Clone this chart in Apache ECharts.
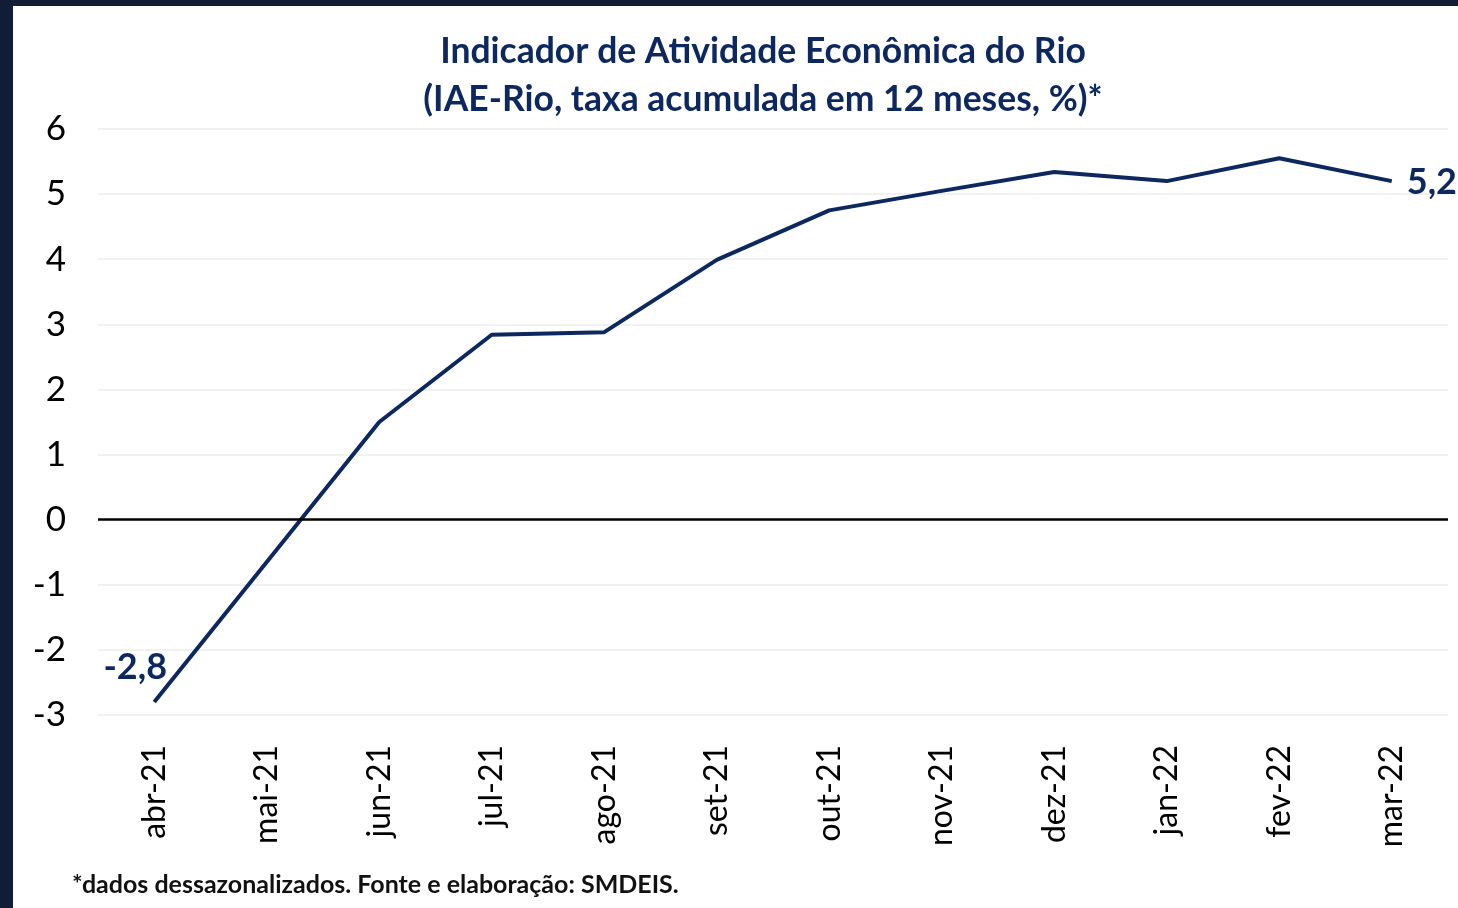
<!DOCTYPE html>
<html>
<head>
<meta charset="utf-8">
<script src="https://cdn.jsdelivr.net/npm/echarts@6/dist/echarts.min.js"></script>
<style>
  html, body { margin: 0; padding: 0; background: #fff; }
  #chart { width: 1458px; height: 908px; }
</style>
</head>
<body>
<div id="chart"></div>
<script>
// meses (abr-21 .. mar-22)
const categories = ['abr-21', 'mai-21', 'jun-21', 'jul-21', 'ago-21', 'set-21',
  'out-21', 'nov-21', 'dez-21', 'jan-22', 'fev-22', 'mar-22']
// IAE-Rio, taxa acumulada em 12 meses (%)
const iaeRio = [-2.8, -0.65, 1.5, 2.84, 2.88, 3.99, 4.75, 5.05, 5.34, 5.2, 5.55, 5.2]
const yTicks = [-3, -2, -1, 0, 1, 2, 3, 4, 5, 6]

const navy = '#0d275f'
const fontFam = 'Lato, "Open Sans", sans-serif'

let myChart = echarts.init(document.getElementById('chart'))

// só o primeiro e o último ponto levam rótulo
let seriesData = iaeRio.map(function (v, i) {
  let item = { value: v }
  if (i === 0) {
    item.label = { show: true, position: 'top', offset: [-19, -12] }
  } else if (i === iaeRio.length - 1) {
    item.label = { show: true, position: 'right', offset: [10, 1] }
  }
  return item
})

let option = {
  backgroundColor: '#fff',
  animation: false,
  title: {
    text: 'Indicador de Atividade Econômica do Rio\n(IAE-Rio, taxa acumulada em 12 meses, %)*',
    left: 758,
    top: 23,
    textAlign: 'center',
    textStyle: {
      color: navy,
      fontFamily: fontFam,
      fontWeight: 'bold',
      fontSize: 35.5,
      lineHeight: 48
    }
  },
  graphic: [
    // moldura escura
    { type: 'rect', left: 0, top: 0, shape: { width: 13, height: 908 }, style: { fill: '#111c35' }, z: 100 },
    { type: 'rect', left: 0, top: 0, shape: { width: 1458, height: 6 }, style: { fill: '#111c35' }, z: 100 },
    {
      type: 'text',
      left: 72,
      top: 872,
      style: {
        text: '*dados dessazonalizados. Fonte e elaboração: SMDEIS.',
        fill: '#111',
        font: 'bold 25px ' + fontFam
      }
    }
  ],
  grid: {
    left: 98,
    right: 10,
    top: 129,
    bottom: 193
  },
  xAxis: {
    type: 'category',
    data: categories,
    axisLine: { show: false },
    axisTick: { show: false },
    axisLabel: {
      rotate: 90,
      margin: 30,
      color: '#000',
      fontFamily: fontFam,
      fontSize: 32
    }
  },
  yAxis: {
    type: 'value',
    min: yTicks[0],
    max: yTicks[yTicks.length - 1],
    interval: 1,
    axisLine: { show: false },
    axisTick: { show: false },
    axisLabel: {
      margin: 32,
      color: '#000',
      fontFamily: fontFam,
      fontSize: 35
    },
    splitLine: { lineStyle: { color: '#ececec', width: 1.5 } }
  },
  series: [{
    name: 'IAE-Rio',
    type: 'line',
    data: seriesData,
    showSymbol: true,
    symbol: 'circle',
    symbolSize: 0,
    itemStyle: { color: navy },
    lineStyle: { color: navy, width: 4 },
    label: {
      show: false,
      fontFamily: fontFam,
      fontWeight: 'bold',
      fontSize: 36,
      color: navy,
      formatter: function (p) {
        return String(p.value).replace('.', ',')
      }
    },
    markLine: {
      silent: true,
      symbol: 'none',
      label: { show: false },
      lineStyle: { color: '#000', width: 2.5, type: 'solid' },
      data: [{ yAxis: 0 }]
    }
  }]
}
myChart.setOption(option)
</script>
</body>
</html>
